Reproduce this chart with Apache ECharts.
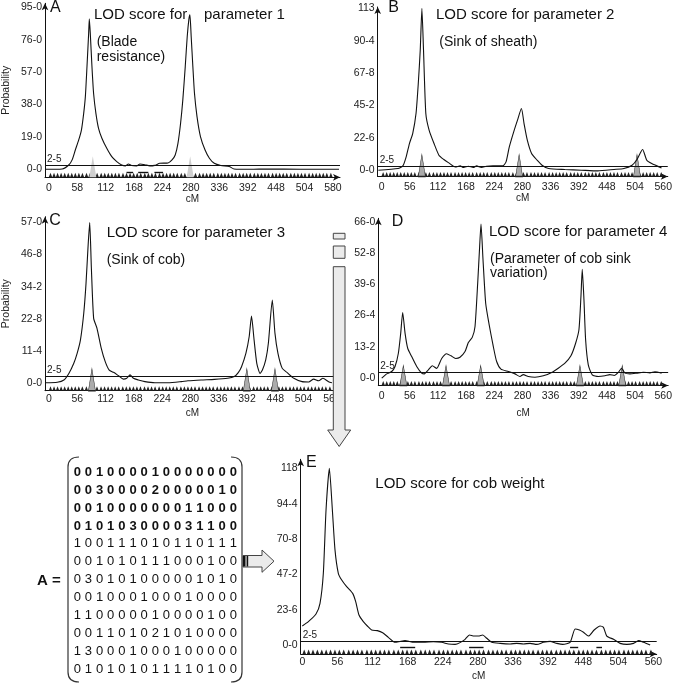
<!DOCTYPE html>
<html><head><meta charset="utf-8">
<script src="https://cdn.jsdelivr.net/npm/echarts@6/dist/echarts.min.js"></script>
<style>html,body{margin:0;padding:0;background:#fff}#c{width:675px;height:683px}</style>
</head><body><div id="c"></div>
<script>
const FONT = "'Liberation Sans', Arial, Helvetica, sans-serif";

// ---- tick labels ----
const xTickVals = [0,56,112,168,224,280,336,392,448,504,560];
const xLabelsA = ['0','58','112','168','224','280','336','392','448','504','580'];
const xLabels = ['0','56','112','168','224','280','336','392','448','504','560'];
const yTicksA = [0,19,38,57,76,95];
const yLabelsA = ['0-0','19-0','38-0','57-0','76-0','95-0'];
const yTicksB = [0,22.6,45.2,67.8,90.4,113];
const yLabelsB = ['0-0','22-6','45-2','67-8','90-4','113'];
const yTicksC = [0,11.4,22.8,34.2,45.6,57];
const yLabelsC = ['0-0','11-4','22-8','34-2','46-8','57-0'];
const yTicksD = [0,13.2,26.4,39.6,52.8,66];
const yLabelsD = ['0-0','13-2','26-4','39-6','52-8','66-0'];
const yTicksE = [0,23.6,47.2,70.8,94.4,118];
const yLabelsE = ['0-0','23-6','47-2','70-8','94-4','118'];

// ---- LOD curves (cM, LOD) ----
const cmA = [-6.5,26,39,45.7,52,58.7,64,68.5,71.8,75,78.3,79.6,81.5,84.8,88,92.6,97.8,104.4,114,123.9,133.7,143.5,151,156.6,163,172.9,179.4,189,199,208.7,218.5,234.8,242.7,249,254.4,259.6,264,268.8,272.7,276,278,280.5,283.8,287,292,298.8,307.9,316.4,326,339,355.5,365,397.9,430.5,495.8,572];
const lodA = [0,0.2,2.5,5.5,11.3,17.2,23,32.8,42.6,60.2,79.8,88.2,79.8,60.2,44.6,32.8,24,18.2,12.3,7.4,4.5,2.5,2,3.1,2.2,2,3.1,2.7,2,2.3,3.5,3.7,5.5,8.4,15.2,27,40.7,60.2,77.8,88,90.5,77.8,60.2,44.6,30.9,19.2,11.3,6.5,3.5,2.2,1.6,0.2,0,0.2,0,0];
const cmB = [-6.5,32.6,42.3,48.8,55.3,61.8,68.4,72.9,76.8,80.1,83.3,87.9,94.4,104.2,113.9,123.7,133.5,146.5,156.3,162.8,172.5,182.3,188.8,198.6,208.3,221.4,240.9,247.4,253.9,263.7,270.2,278,283.2,289.7,298.2,309.2,319,332,364.6,397.1,429.7,462.2,481.8,498,507.8,518.9,527.3,537.1,556.6];
const lodB = [0,1.2,3,9.3,18.6,25.6,39.6,60.6,83.9,113,83.9,39.6,28,18.6,10.5,7.5,5.1,2.3,3,1.9,2.8,1.9,3,1.9,2.8,3,3,5.8,16.3,28,35,43.1,32.6,21,11.7,7,3.5,1.2,0.5,0,-0.5,0.5,1.2,3.5,7.5,14.5,7,4.7,1.6];
const cmC = [-6.5,16.4,29.5,39.3,49.1,55.7,62.2,68.8,73.3,77.3,80.6,83.8,88.4,95,103.5,111.3,119.2,127.7,137.5,147.3,153.9,160.4,167,176.8,189.9,209.6,235.8,262,275,301.2,327.4,353.6,366.7,374.6,381.1,389.7,396.2,400.8,406,411.3,417.8,422.4,429,434.2,442,447.3,453.2,461.7,471.5,484.6,501,514,523.9,533.7,542.2,553.4,560];
const lodC = [0.2,0.4,1.2,3.5,7.1,10.6,15.3,24.8,35.4,48.4,56.9,41.3,23,19.5,12.4,7.7,4.7,3.9,2.7,1.5,1.8,3,1.8,1.2,0.6,0.2,0.2,0.6,0.9,1.2,1.4,1.8,2.4,3.8,5.9,10.6,16.5,23.8,15.3,7.1,3.5,4.7,8.3,14.2,29.5,17.7,10.6,5.3,3.8,1.8,0.6,0.5,1.5,0.9,1.8,0.6,0.2];
const cmD = [0,9.9,19.9,26.5,33.1,37.8,41.7,46.4,51.7,59.6,69.6,79.5,84.8,92.8,100.7,109.3,119.3,129.2,137.8,147.1,155.7,165.7,172.3,180.3,185.6,190.9,194.8,197.5,201.5,206.8,213.4,222,228.6,237.2,251.8,265.1,275,281.6,291.6,304.8,321.4,338,351.2,364.5,376.4,385.7,392.3,396.3,398.9,402.3,405.6,410.9,418.8,430.7,444,453.9,462.5,470.5,477.1,483.8,493.7,507,520.2,533.5,543.4,556.7];
const lodD = [0,1.8,2.8,4.9,10.5,19,27.7,19,12.6,9.1,4.9,2.1,1.8,3.5,5.2,4.1,8.3,10.3,9.4,8.3,8.8,11.2,15,17.3,21.8,40,55.5,65,49.9,31.6,22.9,13.3,7,3.8,2.8,1.8,0.7,1.5,0.7,0.4,1,2.4,4.2,6.3,9.4,14.7,20.4,34.4,45.9,33,16.2,5.6,1.4,0.7,1,1.5,1.1,2.4,4.2,2.1,1.8,2.1,2.5,2.2,2.7,2.1];
const cmE = [0,9.6,21.8,28.2,33.5,37.8,43.1,47.9,52.1,57.4,62.8,70.7,80.3,85.1,90.4,97.3,103.7,110.6,119.7,128.2,137.2,147.9,155.9,163.8,170.7,177.1,193.1,209,222.3,233,243.6,251.6,259.6,266.5,273.9,280.9,287.8,294.1,302.1,315.4,331.4,342,352.7,363.3,373.9,384.6,395.2,405.9,415.4,427.1,435.1,442,448.4,456.4,465.4,475,480.3,485.6,496.3,506.9,517.6,528.2,536.2,544.1,554.8];
const lodE = [12.7,15.6,20.7,27.8,47.9,90.2,118,90.2,63.5,47.9,43.4,39,34.5,29,20,15.6,12.7,10,9.6,8.2,5.1,1.8,2.4,2.9,2.4,1.8,1.8,2.2,1.8,0.7,0.4,1.6,3.8,6.7,6,6,6.7,4.5,1.8,1.1,0.7,1.1,0.7,1.1,0.4,1.8,2.4,1.1,0.4,1.8,10.7,10,8.5,6,10,12.7,11.8,6,3.8,1.1,0.4,1.1,2.9,1.8,0];

// ---- QTL positions (grey triangles), cM ----
const qtlA = [86.5, 278.5];
const qtlB = [80, 273.4, 507.8];
const qtlC = [85, 391.6, 447.3];
const qtlD = [43, 127.9, 196.8, 394.3, 478.5];
const qtlE = [];

// ---- marker positions along the linkage map, cM ----
const markers = [3,10,17,24,31,38,45,52,59,66,74,81,88,95,103,110,117,124,131,138,146,153,160,167,174,181,189,196,203,210,218,225,232,239,246,253,261,268,275,282,289,297,304,311,318,325,333,340,347,354,361,368,376,383,390,397,405,412,419,426,433,441,448,455,462,469,477,484,491,498,505,513,520,527,534,541,548,556];

// ---- short bars under the axis (cM intervals) ----
const barsA = [[153,166],[176,196],[208,225]];
const barsE = [[156,180],[266,289],[427,440],[469,478]];

const threshold = 2.5;

// ---- matrix A ----
const matrixRows = [
"001000010000000",
"003000020000010",
"001000000011000",
"010103000031100",
"100111010110111",
"001010111000100",
"030101000001010",
"001000100010000",
"110000010000100",
"001101021010000",
"130001000100000",
"010101011110100"];
const boldRows = 4;

const panels = [
  {cm:cmA, lod:lodA, qtl:qtlA, bars:barsA, xl:xLabelsA, yt:yTicksA, yl:yLabelsA,
   grid:{left:42.7, top:3.3, width:297.3, height:174}, xr:[-7.8,574], yr:[-4.7,97.3],
   qtlH:21, qtlColor:'#cfcfcf', qtlBorder:0, barY:-1.6, yName:'Probability', nameGap:16, xMargin:5},
  {cm:cmB, lod:lodB, qtl:qtlB, bars:[], xl:xLabels, yt:yTicksB, yl:yLabelsB,
   grid:{left:377.7, top:7, width:295.3, height:169.5}, xr:[-7.8,569], yr:[-4.4,114],
   qtlH:22, qtlColor:'#ababab', qtlBorder:0.8, barY:0, yName:'', nameGap:16, xMargin:5},
  {cm:cmC, lod:lodC, qtl:qtlC, bars:[], xl:xLabels, yt:yTicksC, yl:yLabelsC,
   grid:{left:42.7, top:216.7, width:297.3, height:174}, xr:[-7.9,576], yr:[-2.6,59],
   qtlH:22, qtlColor:'#ababab', qtlBorder:0.8, barY:0, yName:'Probability', nameGap:18, xMargin:3},
  {cm:cmD, lod:lodD, qtl:qtlD, bars:[], xl:xLabels, yt:yTicksD, yl:yLabelsD,
   grid:{left:378.3, top:218.3, width:290, height:167.2}, xr:[-6.8,569.8], yr:[-3.1,67.4],
   qtlH:20, qtlColor:'#ababab', qtlBorder:0.8, barY:0, yName:'', nameGap:23, xMargin:5},
  {cm:cmE, lod:lodE, qtl:qtlE, bars:barsE, xl:xLabels, yt:yTicksE, yl:yLabelsE,
   grid:{left:300.7, top:459.3, width:356, height:194.7}, xr:[-2.6,565.2], yr:[-6,124],
   qtlH:20, qtlColor:'#ababab', qtlBorder:0.8, barY:-1.5, yName:'', nameGap:17, xMargin:3}
];

function lookup(vals, labels, v){
  for (let i=0;i<vals.length;i++) if (Math.abs(vals[i]-v)<1e-6) return labels[i];
  return '';
}

const grids=[], xAxes=[], yAxes=[], series=[];
panels.forEach((p,i)=>{
  grids.push(Object.assign({containLabel:false}, p.grid));
  xAxes.push({type:'value', gridIndex:i, min:p.xr[0], max:p.xr[1],
    axisLine:{onZero:false, symbol:['none','arrow'], symbolSize:[5,7], lineStyle:{color:'#111', width:1}},
    axisTick:{show:false}, splitLine:{show:false},
    axisLabel:{customValues:xTickVals, formatter:(v)=>lookup(xTickVals,p.xl,v), fontSize:10.5, color:'#222', fontFamily:FONT, margin:p.xMargin},
    name:'cM', nameLocation:'middle', nameGap:p.nameGap, nameTextStyle:{fontSize:10, color:'#222', fontFamily:FONT}});
  yAxes.push({type:'value', gridIndex:i, min:p.yr[0], max:p.yr[1],
    axisLine:{onZero:false, symbol:['none','arrow'], symbolSize:[5,7], lineStyle:{color:'#111', width:1}},
    axisTick:{show:false}, splitLine:{show:false},
    axisLabel:{customValues:p.yt, formatter:(v)=>lookup(p.yt,p.yl,v), fontSize:10.5, color:'#222', fontFamily:FONT, margin:3},
    name:p.yName, nameLocation:'middle', nameRotate:90, nameGap:33, nameTextStyle:{fontSize:10.5, color:'#222', fontFamily:FONT}});
  const ml = [{yAxis:threshold, label:{show:true, position:'insideStartTop', formatter:'2-5', color:'#222', fontSize:10, fontFamily:FONT, distance:[2,1]}}];
  p.bars.forEach(b=>ml.push([{coord:[b[0],p.barY], lineStyle:{width:1.4}},{coord:[b[1],p.barY]}]));
  series.push({type:'line', xAxisIndex:i, yAxisIndex:i, data:p.cm.map((c,k)=>[c,p.lod[k]]),
    symbol:'none', smooth:0.2, lineStyle:{color:'#111', width:1.1}, z:5, animation:false,
    markLine:{silent:true, symbol:'none', animation:false, lineStyle:{color:'#111', width:1, type:'solid'}, label:{show:false}, data:ml}});
  series.push({type:'scatter', xAxisIndex:i, yAxisIndex:i, data:p.qtl.map(q=>[q,p.yr[0]]),
    symbol:'triangle', symbolSize:[7,p.qtlH], symbolOffset:[0,-p.qtlH/2], z:3, animation:false,
    itemStyle:{color:p.qtlColor, borderColor:'#222', borderWidth:p.qtlBorder, opacity:1}});
  series.push({type:'scatter', xAxisIndex:i, yAxisIndex:i, data:markers.map(m=>[m,p.yr[0]]),
    symbol:'triangle', symbolSize:[3.5,4.5], symbolOffset:[0,-2.25], z:2, animation:false,
    itemStyle:{color:'#222', opacity:1}});
});

// ---- graphics: titles, matrix, arrows ----
const g = [];
function txt(x,y,t,size,weight){
  g.push({type:'text', x:x, y:y, z:50, style:{text:t, fontSize:size, fontFamily:FONT, fontWeight:weight||'normal', fill:'#111', verticalAlign:'middle', align:'left'}});
}
txt(50,7.7,'A',16); txt(94,15.3,'LOD score for    parameter 1',15);
txt(96.7,41.7,'(Blade',14); txt(96.7,56.7,'resistance)',14);
txt(388.3,7.3,'B',16); txt(436,15,'LOD score for parameter 2',15);
txt(439.3,42.3,'(Sink of sheath)',14);
txt(49.3,220.7,'C',16); txt(106.7,233.3,'LOD score for parameter 3',15);
txt(106.7,260,'(Sink of cob)',14);
txt(391.7,221.7,'D',16); txt(489,231.7,'LOD score for parameter 4',15);
txt(490,259,'(Parameter of cob sink',14); txt(490,273.3,'variation)',14);
txt(306,462.7,'E',16); txt(375.3,484,'LOD score for cob weight',15);
txt(37,581,'A =',15,'bold');
matrixRows.forEach((row,i)=>{
  row.split('').forEach((d,j)=>{
    g.push({type:'text', x:77.3+j*11.14, y:472.3+i*17.9, z:50,
      style:{text:d, fontSize:13, fontFamily:FONT, fontWeight:i<boldRows?'bold':'normal', fill:'#111', align:'center', verticalAlign:'middle'}});
  });
});
// brackets
const brStyle = {fill:'none', stroke:'#333', lineWidth:1.2};
g.push({type:'polyline', z:50, shape:{points:[[68,467],[68,672]]}, style:brStyle});
g.push({type:'bezierCurve', z:50, shape:{x1:68,y1:467,cpx1:68,cpy1:457,x2:79,y2:457}, style:brStyle});
g.push({type:'bezierCurve', z:50, shape:{x1:68,y1:672,cpx1:68,cpy1:682,x2:79,y2:682}, style:brStyle});
g.push({type:'polyline', z:50, shape:{points:[[242,467],[242,672]]}, style:brStyle});
g.push({type:'bezierCurve', z:50, shape:{x1:242,y1:467,cpx1:242,cpy1:457,x2:231,y2:457}, style:brStyle});
g.push({type:'bezierCurve', z:50, shape:{x1:242,y1:672,cpx1:242,cpy1:682,x2:231,y2:682}, style:brStyle});
// big down arrow
const arrowStyle = {fill:'#ebebeb', stroke:'#444', lineWidth:1};
g.push({type:'rect', z:60, shape:{x:333.3, y:233.3, width:11.7, height:5.7}, style:arrowStyle});
g.push({type:'rect', z:60, shape:{x:333.3, y:246, width:11.7, height:12.3}, style:arrowStyle});
g.push({type:'polygon', z:60, shape:{points:[[333.3,266.7],[345,266.7],[345,430],[350.7,430],[339.2,446.5],[327.7,430],[333.3,430]]}, style:arrowStyle});
// small right arrow
g.push({type:'polygon', z:60, shape:{points:[[243,555.5],[262,555.5],[262,550],[274,561.2],[262,572.3],[262,567],[243,567]]}, style:arrowStyle});
g.push({type:'rect', z:61, shape:{x:243, y:556, width:2.5, height:10.5}, style:{fill:'#111'}});
g.push({type:'rect', z:61, shape:{x:246.6, y:556, width:1.6, height:10.5}, style:{fill:'#111'}});

const chart = echarts.init(document.getElementById('c'), null, {renderer:'canvas'});
chart.setOption({
  animation:false,
  backgroundColor:'#fff',
  textStyle:{fontFamily:FONT},
  grid:grids, xAxis:xAxes, yAxis:yAxes, series:series, graphic:g
});
</script></body></html>
